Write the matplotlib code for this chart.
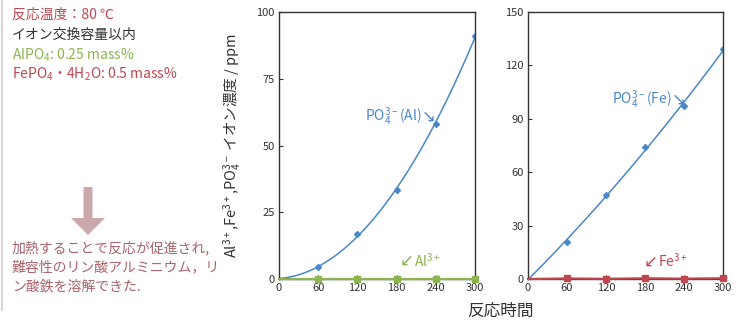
import numpy as np
import matplotlib.pyplot as plt
from matplotlib.patches import FancyArrow

plt.rcParams['font.family'] = ['Noto Sans CJK JP', 'DejaVu Sans']
plt.rcParams['mathtext.fontset'] = 'custom'
plt.rcParams['mathtext.rm'] = 'Noto Sans CJK JP'
plt.rcParams['mathtext.it'] = 'Noto Sans CJK JP'
plt.rcParams['mathtext.bf'] = 'Noto Sans CJK JP'

# data
times = [0, 60, 120, 180, 240, 300]
po4_al = [0, 4.5, 17, 33.5, 58, 91]
al_ion = [0, 0, 0, 0, 0, 0]
po4_fe = [0, 21, 47, 74, 97, 129]
fe_ion = [0, 0.3, 0.1, 0.4, 0.2, 0.4]
x_ticks = [0, 60, 120, 180, 240, 300]
y_ticks_al = [0, 25, 50, 75, 100]
y_ticks_fe = [0, 30, 60, 90, 120, 150]

BLUE  = "#4a87c9"
GREEN = "#8db451"
RED   = "#c0464f"
DARK  = "#333333"
MAUVE = "#a8646c"

W, H = 748, 322
fig = plt.figure(figsize=(W/100, H/100), dpi=100)

def box(x0, y0, x1, y1):
    return [x0/W, 1 - y1/H, (x1-x0)/W, (y1-y0)/H]

def draw_panel(ax, po4, ion, ion_color, yticks, ymax):
    t = np.array(times[1:])
    ax.set_xlim(0, 300)
    ax.set_ylim(0, ymax)
    coef = np.polyfit(times, po4, 2)
    tt = np.linspace(0, 300, 200)
    ax.plot(tt, np.clip(np.polyval(coef, tt), 0, None), color=BLUE, lw=1.1)
    ax.plot(t, po4[1:], ls='none', marker='D', ms=3, color=BLUE)
    ax.plot(times, ion, color=ion_color, lw=1.6, marker='s', ms=5,
            markevery=list(range(1, len(times))), clip_on=False, zorder=5)
    ax.set_xticks(x_ticks)
    ax.set_yticks(yticks)
    ax.tick_params(direction='in', length=3, labelsize=8, colors=DARK, pad=3)
    for s in ax.spines.values():
        s.set_color(DARK)
        s.set_linewidth(1.0)

def label(ax, x, y, txt, col, arrow, left=False):
    # arrow glyph drawn in DejaVu, text placed next to it
    ax.text(x, y, arrow, color=col, fontsize=12, family='DejaVu Sans',
            ha='left' if left else 'right', va='center')
    ax.annotate(txt, xy=(x, y), xytext=(10 if left else -10, 0),
                textcoords='offset points', color=col, fontsize=10,
                ha='left' if left else 'right', va='center')

ax1 = fig.add_axes(box(279, 12, 475, 279))
draw_panel(ax1, po4_al, al_ion, GREEN, y_ticks_al, 100)
label(ax1, 240, 61, 'PO$_4^{3-}$(Al)', BLUE, '↘')
label(ax1, 185, 7, 'Al$^{3+}$', GREEN, '↙', left=True)
ax1.set_ylabel('Al$^{3+}$,Fe$^{3+}$,PO$_4^{3-}$ イオン濃度 / ppm', fontsize=10.5, color=DARK, labelpad=10)

ax2 = fig.add_axes(box(528, 12, 723, 279))
draw_panel(ax2, po4_fe, fe_ion, RED, y_ticks_fe, 150)
label(ax2, 242, 101, 'PO$_4^{3-}$(Fe)', BLUE, '↘')
label(ax2, 178, 10, 'Fe$^{3+}$', RED, '↙', left=True)

fig.text(500/W, 1 - 311/H, '反応時間', fontsize=12, color=DARK, ha='center', va='center')

# left notes
fig.add_artist(plt.Line2D([2/W, 2/W], [1 - 310/H, 1], color="#d8cccc", lw=1.2))
notes = [
    ('反応温度：80 ℃', RED, 15),
    ('イオン交換容量以内', DARK, 35),
    ('AlPO$_4$: 0.25 mass%', GREEN, 55),
    ('FePO$_4$・4H$_2$O: 0.5 mass%', RED, 74),
]
for txt, col, y in notes:
    fig.text(12/W, 1 - y/H, txt, fontsize=10, color=col, ha='left', va='center')

fig.add_artist(FancyArrow(88/W, 1 - 187/H, 0, -48/H, width=9/W, head_width=34/W,
                          head_length=17/H, length_includes_head=True,
                          color="#c9a9ab", lw=0, transform=fig.transFigure))

summary = [
    '加熱することで反応が促進され,',
    '難容性のリン酸アルミニウム，リ',
    'ン酸鉄を溶解できた.',
]
for i, txt in enumerate(summary):
    fig.text(12/W, 1 - (248 + 19*i)/H, txt, fontsize=10, color=MAUVE, ha='left', va='center')

fig.savefig('out.png', dpi=100)
